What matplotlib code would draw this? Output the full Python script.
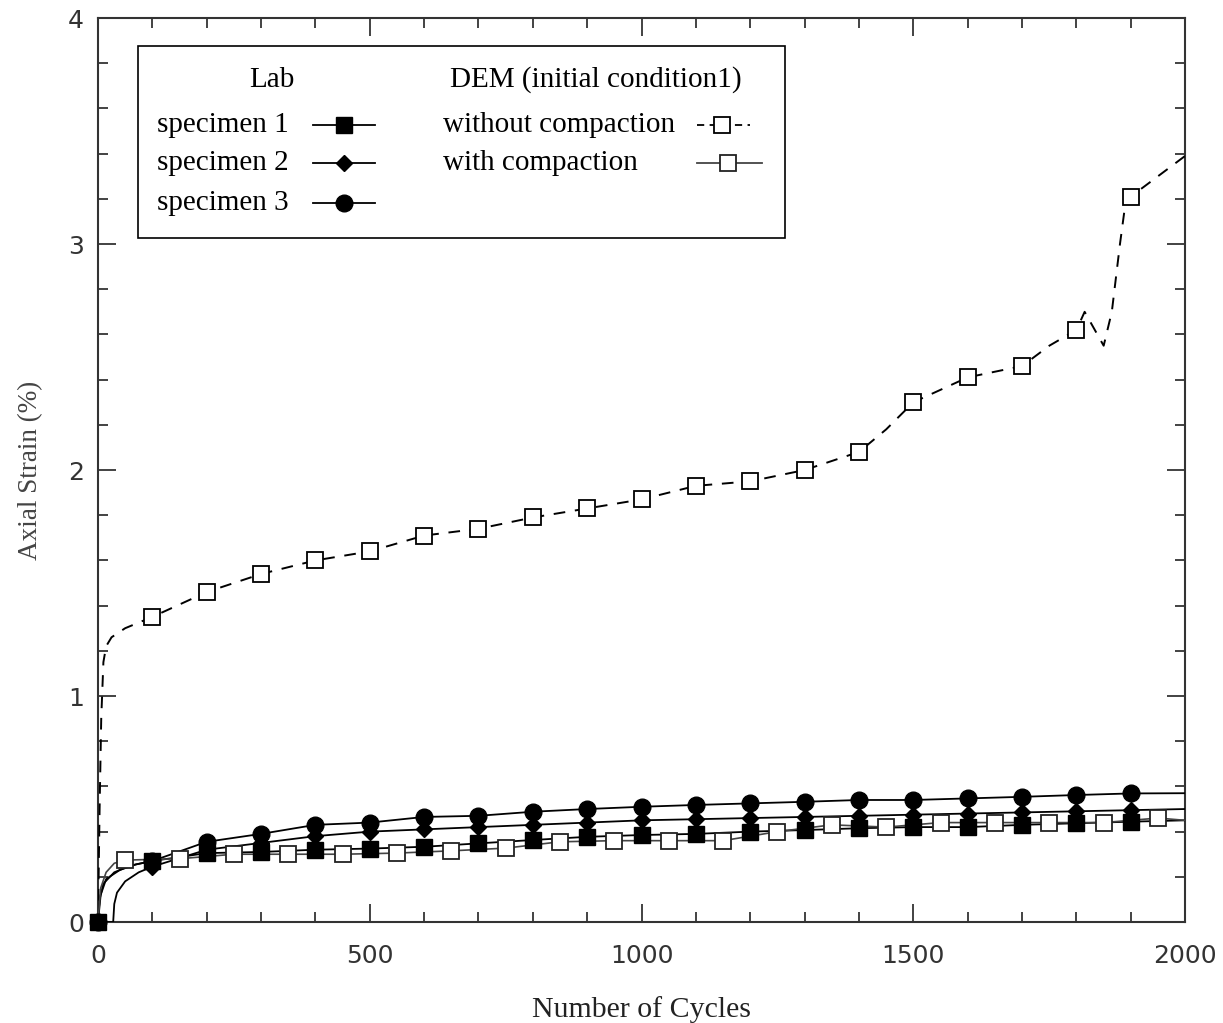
import matplotlib
matplotlib.use("Agg")
import matplotlib.pyplot as plt
from matplotlib.lines import Line2D
from matplotlib.patches import Rectangle
from matplotlib.ticker import MultipleLocator

plt.rcParams['font.family'] = ['Liberation Serif', 'DejaVu Serif']

# ---- data ----
cycles_lab = [0, 100, 200, 300, 400, 500, 600, 700, 800, 900, 1000,
              1100, 1200, 1300, 1400, 1500, 1600, 1700, 1800, 1900]
spec1 = [0, 0.27, 0.305, 0.31, 0.32, 0.325, 0.333, 0.348, 0.363, 0.377, 0.385,
         0.39, 0.40, 0.407, 0.415, 0.42, 0.42, 0.43, 0.437, 0.444]
spec2 = [0, 0.245, 0.32, 0.35, 0.38, 0.40, 0.41, 0.42, 0.43, 0.44, 0.45,
         0.455, 0.46, 0.465, 0.47, 0.475, 0.48, 0.485, 0.49, 0.495]
spec3 = [0, 0.27, 0.355, 0.39, 0.43, 0.44, 0.465, 0.47, 0.488, 0.50, 0.51,
         0.518, 0.525, 0.532, 0.54, 0.54, 0.547, 0.554, 0.562, 0.569]

# early-cycle parts of lab curves and their end values
spec1_start_x = [0, 3, 10, 30, 60]
spec1_start_y = [0, 0.10, 0.17, 0.22, 0.25]
spec2_start_x = [0, 28, 30, 35, 50, 75]
spec2_start_y = [0, 0, 0.08, 0.13, 0.18, 0.22]
spec3_start_x = [0, 5, 15, 40, 70]
spec3_start_y = [0, 0.12, 0.19, 0.23, 0.255]
lab_end_x = 2000
spec1_end, spec2_end, spec3_end = 0.45, 0.50, 0.57

# DEM without compaction
dem_wo_mk_x = [100, 200, 300, 400, 500, 600, 700, 800, 900, 1000,
               1100, 1200, 1300, 1400, 1500, 1600, 1700, 1800, 1900]
dem_wo_mk_y = [1.35, 1.46, 1.54, 1.60, 1.64, 1.71, 1.74, 1.79, 1.83, 1.87,
               1.93, 1.95, 2.00, 2.08, 2.30, 2.41, 2.46, 2.62, 3.21]
dem_wo_line_x = [0, 3, 6, 10, 15, 25, 50, 100, 200, 300, 400, 500, 600, 700, 800,
                 900, 1000, 1100, 1200, 1300, 1400, 1450, 1500, 1600, 1700, 1750,
                 1800, 1815, 1850, 1865, 1880, 1890, 1900, 1950, 2000]
dem_wo_line_y = [0, 0.5, 0.9, 1.15, 1.22, 1.26, 1.30, 1.35, 1.46, 1.54, 1.60, 1.64, 1.71,
                 1.74, 1.79, 1.83, 1.87, 1.93, 1.95, 2.00, 2.08, 2.18, 2.30, 2.41, 2.46,
                 2.55, 2.62, 2.70, 2.55, 2.70, 3.00, 3.18, 3.21, 3.30, 3.39]

# DEM with compaction
dem_w_mk_x = [50, 150, 250, 350, 450, 550, 650, 750, 850, 950,
              1050, 1150, 1250, 1350, 1450, 1550, 1650, 1750, 1850, 1950]
dem_w_mk_y = [0.274, 0.28, 0.30, 0.30, 0.30, 0.305, 0.315, 0.327, 0.355, 0.36,
              0.36, 0.36, 0.40, 0.43, 0.42, 0.44, 0.44, 0.44, 0.44, 0.46]
dem_w_start_x = [0, 5, 15, 30]
dem_w_start_y = [0, 0.15, 0.22, 0.26]
dem_w_end_x, dem_w_end_y = 2000, 0.45

lab_labels = ['specimen 1', 'specimen 2', 'specimen 3']
dem_labels = ['without compaction', 'with compaction']

# ---- figure ----
fig = plt.figure(figsize=(12.23, 10.23), dpi=100)
ax = fig.add_axes([0.0801, 0.0987, 0.889, 0.8837])

lw = 1.3
lab_styles = [('s', 12), ('D', 8), ('o', 12)]
for (sx, sy, ys, ye), (mk, ms), zo in zip(
        [(spec1_start_x, spec1_start_y, spec1, spec1_end),
         (spec2_start_x, spec2_start_y, spec2, spec2_end),
         (spec3_start_x, spec3_start_y, spec3, spec3_end)], lab_styles, [4.3, 4.2, 4.1]):
    ax.plot(sx + cycles_lab[1:] + [lab_end_x], sy + ys[1:] + [ye], color='black', lw=lw, zorder=3)
    ax.plot(cycles_lab, ys, linestyle='none', marker=mk, ms=ms, color='black', zorder=zo,
            clip_on=False)

# DEM without compaction
ax.plot(dem_wo_line_x, dem_wo_line_y, color='black', lw=1.4, dashes=(6, 5), zorder=3)
ax.plot(dem_wo_mk_x, dem_wo_mk_y, linestyle='none', marker='s', ms=11,
        mfc='white', mec='black', mew=1.3, zorder=5)

# DEM with compaction
ax.plot(dem_w_start_x + dem_w_mk_x + [dem_w_end_x], dem_w_start_y + dem_w_mk_y + [dem_w_end_y],
        color='#444444', lw=1.2, zorder=3)
ax.plot(dem_w_mk_x, dem_w_mk_y, linestyle='none', marker='s', ms=11,
        mfc='white', mec='#222222', mew=1.3, zorder=5)

ax.set_xlim(0, 2000)
ax.set_ylim(0, 4)
ax.xaxis.set_major_locator(MultipleLocator(500))
ax.xaxis.set_minor_locator(MultipleLocator(100))
ax.yaxis.set_major_locator(MultipleLocator(1))
ax.yaxis.set_minor_locator(MultipleLocator(0.2))
ax.tick_params(which='both', direction='in', top=True, right=True, labelsize=18,
               colors='#222222')
ax.tick_params(which='major', length=13, width=1.2)
ax.tick_params(axis='x', which='major', pad=16)
ax.tick_params(axis='y', which='major', pad=10)
ax.tick_params(which='minor', length=7, width=1.2)
for lab in ax.get_xticklabels() + ax.get_yticklabels():
    lab.set_fontfamily('DejaVu Sans')
    lab.set_color('#333333')
for s in ax.spines.values():
    s.set_linewidth(1.5)
    s.set_color('#333333')

ax.set_xlabel('Number of Cycles', fontsize=21.5, color='#222222', labelpad=20)
ax.set_ylabel('Axial Strain (%)', fontsize=19.5, color='#444444', labelpad=18)

# ---- legend (drawn by hand, in axes coordinates) ----
def ax_x(px):
    return (px - 98) / 1087.0

def ax_y(py):
    return (922 - py) / 904.0

T = ax.transAxes
ax.add_patch(Rectangle((ax_x(138), ax_y(238)), ax_x(785) - ax_x(138), ax_y(46) - ax_y(238),
                       transform=T, facecolor='white', edgecolor='black', lw=1.2, zorder=6))
fs = 21
ax.text(ax_x(272), ax_y(80), 'Lab', transform=T, fontsize=fs, ha='center', va='center', zorder=7)
ax.text(ax_x(596), ax_y(80), 'DEM (initial condition1)', transform=T, fontsize=fs,
        ha='center', va='center', zorder=7)
rows = [125, 163, 203]
for lbl, (mk, ms), py in zip(lab_labels, lab_styles, rows):
    ax.text(ax_x(157), ax_y(py), lbl, transform=T, fontsize=fs, ha='left', va='center', zorder=7)
    ax.add_line(Line2D([ax_x(313), ax_x(375)], [ax_y(py), ax_y(py)], transform=T,
                       color='black', lw=lw, zorder=7))
    ax.add_line(Line2D([ax_x(344)], [ax_y(py)], transform=T, color='black', marker=mk,
                       ms=ms, zorder=8))
dem_handles = [((697, 750), 722, dict(color='black', dashes=(4, 3)), 'black'),
               ((697, 762), 728, dict(color='#444444'), '#222222')]
for lbl, py, (xr, xm, lkw, mec) in zip(dem_labels, rows[:2], dem_handles):
    ax.text(ax_x(443), ax_y(py), lbl, transform=T, fontsize=fs, ha='left', va='center', zorder=7)
    ax.add_line(Line2D([ax_x(xr[0]), ax_x(xr[1])], [ax_y(py), ax_y(py)], transform=T,
                       lw=1.3, zorder=7, **lkw))
    ax.add_line(Line2D([ax_x(xm)], [ax_y(py)], transform=T, marker='s', ms=11,
                       mfc='white', mec=mec, mew=1.3, linestyle='none', zorder=8))

fig.savefig('out.png', dpi=100)
